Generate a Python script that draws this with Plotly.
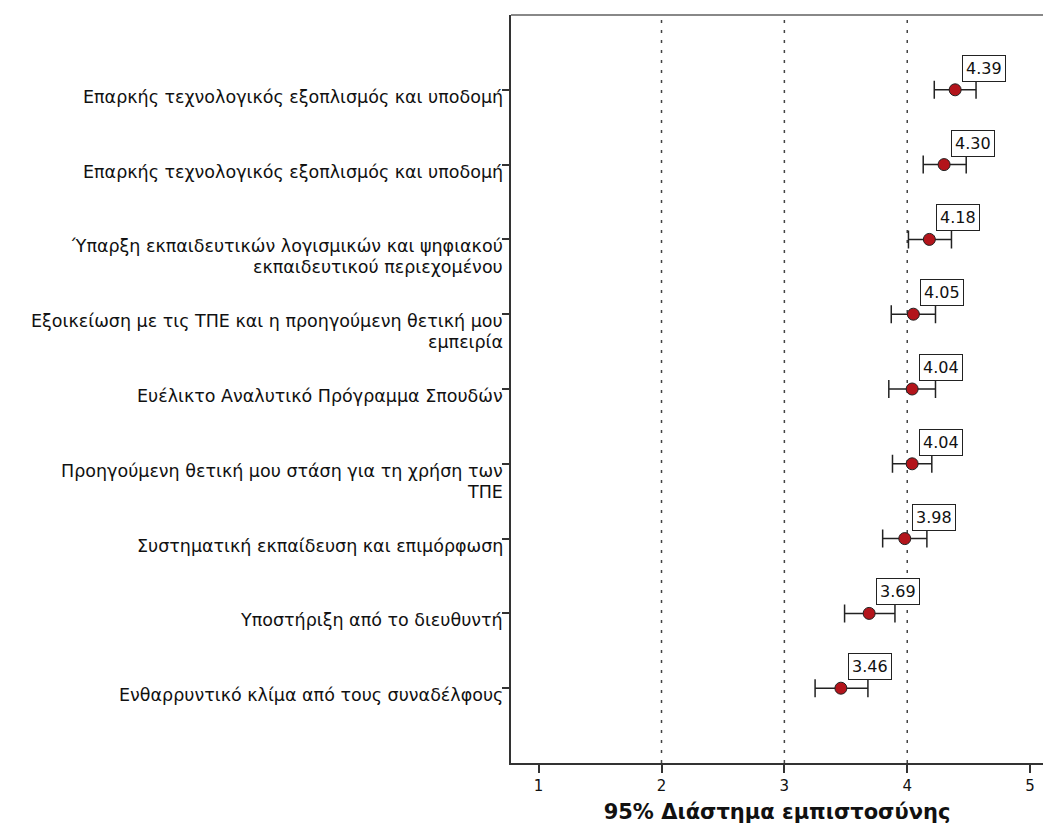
import plotly.graph_objects as go

labels = [
    "Επαρκής τεχνολογικός εξοπλισμός και υποδομή",
    "Επαρκής τεχνολογικός εξοπλισμός και υποδομή",
    "Ύπαρξη εκπαιδευτικών λογισμικών και ψηφιακού<br>εκπαιδευτικού περιεχομένου",
    "Εξοικείωση με τις ΤΠΕ και η προηγούμενη θετική μου<br>εμπειρία",
    "Ευέλικτο Αναλυτικό Πρόγραμμα Σπουδών",
    "Προηγούμενη θετική μου στάση για τη χρήση των<br>ΤΠΕ",
    "Συστηματική εκπαίδευση και επιμόρφωση",
    "Υποστήριξη από το διευθυντή",
    "Ενθαρρυντικό κλίμα από τους συναδέλφους",
]
means = [4.39, 4.30, 4.18, 4.05, 4.04, 4.04, 3.98, 3.69, 3.46]
ci_low = [4.22, 4.13, 4.01, 3.87, 3.85, 3.88, 3.80, 3.49, 3.25]
ci_high = [4.56, 4.48, 4.36, 4.23, 4.23, 4.20, 4.16, 3.90, 3.68]
x_ticks = [1, 2, 3, 4, 5]
ref_lines = [2, 3, 4]

pos = list(range(len(labels)))
FONT = "DejaVu Sans"

fig = go.Figure()
fig.add_trace(go.Scatter(
    x=means, y=pos, mode="markers",
    marker=dict(color="#b3141b", size=12, line=dict(color="#222", width=1)),
    error_x=dict(type="data", symmetric=False,
                 array=[h - m for h, m in zip(ci_high, means)],
                 arrayminus=[m - l for m, l in zip(means, ci_low)],
                 color="#222", thickness=1.5, width=9),
    showlegend=False, hoverinfo="skip",
))

shapes = []
for v in ref_lines:
    shapes.append(dict(type="line", xref="x", yref="paper", x0=v, x1=v, y0=0, y1=1,
                       line=dict(color="#444", width=1.5, dash="3px,7px"), layer="below"))
shapes.append(dict(type="line", xref="paper", yref="paper", x0=0, x1=1, y0=1, y1=1,
                   line=dict(color="#888", width=2)))

annotations = []
for i, (m, lab) in enumerate(zip(means, labels)):
    annotations.append(dict(
        x=m, y=i, xref="x", yref="y", text=f"{m:.2f}", showarrow=False,
        xanchor="left", yanchor="bottom", xshift=7, yshift=8,
        bordercolor="#222", borderwidth=1, borderpad=3, bgcolor="white",
        font=dict(family=FONT, size=16, color="#111"),
    ))
    for k, line in enumerate(lab.split("<br>")):
        annotations.append(dict(
            x=0, y=i, xref="paper", yref="y", text=line, showarrow=False,
            xanchor="right", yanchor="top", xshift=-7, yshift=4 - 21 * k, align="right",
            borderpad=0,
            font=dict(family=FONT, size=17.5, color="#111"),
        ))

fig.update_layout(
    width=1043, height=839,
    margin=dict(l=511, r=0, t=15, b=76),
    plot_bgcolor="white", paper_bgcolor="white",
    shapes=shapes, annotations=annotations,
    xaxis=dict(range=[0.775, 5.105], tickvals=x_ticks, ticktext=[str(t) for t in x_ticks],
               showgrid=False, zeroline=False, showline=True, linecolor="#333", linewidth=2,
               ticks="outside", ticklen=8, tickwidth=2, tickcolor="#333",
               tickfont=dict(family=FONT, size=15, color="#111"),
               title=dict(text="<b>95% Διάστημα εμπιστοσύνης</b>", standoff=10,
                          font=dict(family=FONT, size=21, color="#111"))),
    yaxis=dict(range=[9, -1], tickvals=pos, showticklabels=False,
               showgrid=False, zeroline=False, showline=True, linecolor="#333", linewidth=2,
               ticks="outside", ticklen=7, tickwidth=1.5, tickcolor="#333"),
)

fig.write_html("out.html")
